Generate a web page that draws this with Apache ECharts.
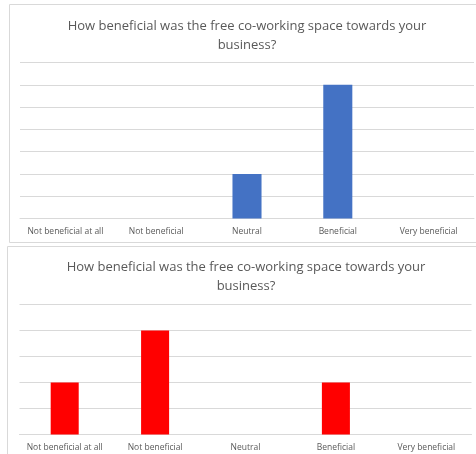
<!DOCTYPE html>
<html><head><meta charset="utf-8">
<script src="https://cdn.jsdelivr.net/npm/echarts@6/dist/echarts.min.js"></script>
<style>html,body{margin:0;padding:0;background:#fff}#c{width:476px;height:454px}</style>
</head><body><div id="c"></div>
<script>
const categories = ['Not beneficial at all','Not beneficial','Neutral','Beneficial','Very beneficial'];
const topValues = [0, 0, 2, 6, 0];
const bottomValues = [2, 4, 0, 2, 0];
const titleText = 'How beneficial was the free co-working space towards your\nbusiness?';
const topMax = 7;
const bottomMax = 5;

const chart = echarts.init(document.getElementById('c'), null, {renderer:'canvas'});
const font = '"Open Sans", "Liberation Sans", sans-serif';
const xAxisCommon = {
  type:'category', data: categories,
  axisLine:{lineStyle:{color:'#d9d9d9'}}, axisTick:{show:false},
  axisLabel:{color:'#595959', fontSize:8.5, fontFamily:font, margin:9, interval:0}
};
const yAxisCommon = {
  type:'value', min:0, interval:1,
  axisLabel:{show:false}, axisLine:{show:false}, axisTick:{show:false},
  splitLine:{lineStyle:{color:'#d9d9d9'}}
};
chart.setOption({
  animation:false,
  graphic:[
    {type:'rect', shape:{x:9.5,y:4.5,width:480,height:238}, style:{fill:'none',stroke:'#d9d9d9',lineWidth:1}},
    {type:'rect', shape:{x:7.5,y:246.5,width:480,height:220}, style:{fill:'none',stroke:'#d9d9d9',lineWidth:1}}
  ],
  title:[
    {text:titleText, left:242, top:12, textAlign:'center',
     textStyle:{color:'#595959', fontSize:13, fontWeight:'normal', fontFamily:font, lineHeight:19}},
    {text:titleText, left:241, top:253, textAlign:'center',
     textStyle:{color:'#595959', fontSize:13, fontWeight:'normal', fontFamily:font, lineHeight:19}}
  ],
  grid:[
    {left:20, right:2, top:62.5, height:156},
    {left:19.5, right:4.5, top:304.5, height:130}
  ],
  xAxis:[
    Object.assign({gridIndex:0}, xAxisCommon),
    Object.assign({gridIndex:1}, xAxisCommon)
  ],
  yAxis:[
    Object.assign({gridIndex:0, max:topMax}, yAxisCommon),
    Object.assign({gridIndex:1, max:bottomMax}, yAxisCommon)
  ],
  series:[
    {type:'bar', xAxisIndex:0, yAxisIndex:0, data:topValues, barWidth:'32%', itemStyle:{color:'#4472C4'}},
    {type:'bar', xAxisIndex:1, yAxisIndex:1, data:bottomValues, barWidth:'31%', itemStyle:{color:'#FF0000'}}
  ]
});
</script></body></html>
